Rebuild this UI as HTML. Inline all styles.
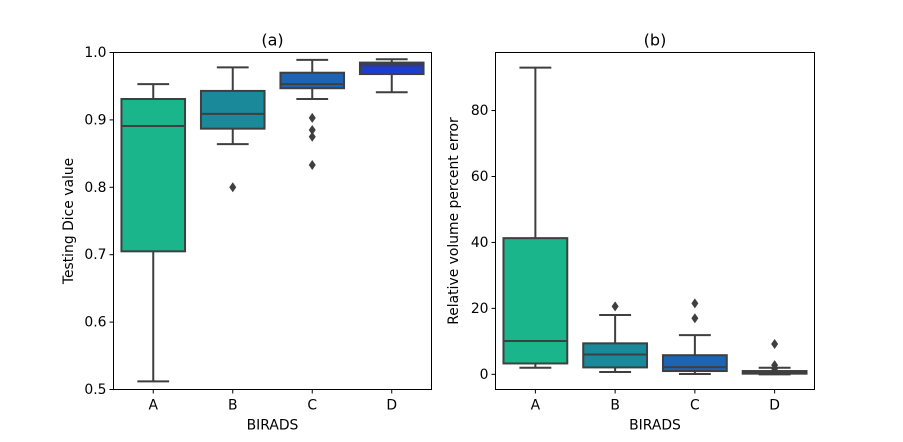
<!DOCTYPE html>
<html><head><meta charset="utf-8"><style>
body{margin:0;background:#fff}
svg text{font-family:"DejaVu Sans","Liberation Sans",sans-serif;font-size:13.9px;fill:#000}
</style></head><body>
<svg id="chart" width="903" height="437" xmlns="http://www.w3.org/2000/svg"></svg>
<script>
const categories=["A","B","C","D"];
const colors=["#1ab58b","#1a8a9b","#1c64b5","#1f3dcc"];
const diceLow=[0.512,0.864,0.931,0.941];
const diceQ1=[0.705,0.887,0.947,0.968];
const diceMed=[0.891,0.909,0.953,0.981];
const diceQ3=[0.931,0.943,0.970,0.985];
const diceHigh=[0.953,0.978,0.989,0.990];
const diceOut=[[],[0.80],[0.903,0.885,0.875,0.833],[]];
const diceTicks=[0.5,0.6,0.7,0.8,0.9,1.0];
const volLow=[2,0.7,0.1,0];
const volQ1=[3.3,2.1,1.0,0.2];
const volMed=[10.1,6.0,2.2,0.6];
const volQ3=[41.3,9.4,5.8,1.0];
const volHigh=[93,18,11.9,2];
const volOut=[[],[20.6],[21.5,17],[9.2,2.8,1.7]];
const volTicks=[0,20,40,60,80];
const NS="http://www.w3.org/2000/svg";
const svg=document.getElementById('chart');
function mk(t,a,p){const e=document.createElementNS(NS,t);for(const k in a)e.setAttribute(k,a[k]);(p||svg).appendChild(e);return e;}
function panel(o){
  const g=mk('g',{});
  
  
  const {x0,x1,y0,y1,min,max}=o;
  const ys=v=>y1-(v-min)/(max-min)*(y1-y0);
  const step=(x1-x0)/4;
  const xs=i=>x0+step*(i+0.5);
  const hw=step*0.4;
  for(let i=0;i<4;i++){
    const c=mk('g',{},g);
    
    
    const x=xs(i),st='#3f3f3f';
    mk('line',{x1:x,x2:x,y1:ys(o.low[i]),y2:ys(o.q1[i]),stroke:st,'stroke-width':2},c);
    mk('line',{x1:x,x2:x,y1:ys(o.q3[i]),y2:ys(o.high[i]),stroke:st,'stroke-width':2},c);
    mk('line',{x1:x-hw/2,x2:x+hw/2,y1:ys(o.low[i]),y2:ys(o.low[i]),stroke:st,'stroke-width':2},c);
    mk('line',{x1:x-hw/2,x2:x+hw/2,y1:ys(o.high[i]),y2:ys(o.high[i]),stroke:st,'stroke-width':2},c);
    mk('rect',{x:x-hw,y:ys(o.q3[i]),width:2*hw,height:Math.max(ys(o.q1[i])-ys(o.q3[i]),1),fill:colors[i],stroke:st,'stroke-width':2},c);
    mk('line',{x1:x-hw,x2:x+hw,y1:ys(o.med[i]),y2:ys(o.med[i]),stroke:st,'stroke-width':2},c);
    o.out[i].forEach(v=>{const y=ys(v);mk('path',{d:`M${x} ${y-5}L${x+3.5} ${y}L${x} ${y+5}L${x-3.5} ${y}Z`,fill:st},c);});
    mk('line',{x1:x,x2:x,y1:y1,y2:y1+4,stroke:'#000'},g);
    const t=mk('text',{x:x,y:y1+20,'text-anchor':'middle'},g);t.textContent=categories[i];
  }
  mk('rect',{x:x0,y:y0,width:x1-x0,height:y1-y0,fill:'none',stroke:'#000','stroke-width':1},g);
  o.ticks.forEach(v=>{const y=ys(v);mk('line',{x1:x0-4,x2:x0,y1:y,y2:y,stroke:'#000'},g);
    const t=mk('text',{x:x0-7,y:y+4.5,'text-anchor':'end'},g);t.textContent=o.fmt(v);});
  const tt=mk('text',{x:(x0+x1)/2,y:y0-7,'text-anchor':'middle'},g);tt.textContent=o.title;tt.style.fontSize='16px';
  const xl=mk('text',{x:(x0+x1)/2,y:y1+40,'text-anchor':'middle'},g);xl.textContent='BIRADS';
  const yl=mk('text',{x:0,y:0,'text-anchor':'middle',transform:`translate(${o.ylx},${(y0+y1)/2}) rotate(-90)`},g);yl.textContent=o.ylabel;
}
panel({name:'panel-a-dice',x0:113.5,x1:431.5,y0:52.5,y1:389.5,min:0.5,max:1.0,low:diceLow,q1:diceQ1,med:diceMed,q3:diceQ3,high:diceHigh,out:diceOut,ticks:diceTicks,fmt:v=>v.toFixed(1),title:'(a)',ylabel:'Testing Dice value',ylx:73});
panel({name:'panel-b-volume',x0:495.5,x1:814.5,y0:52.5,y1:389.5,min:-4.6,max:97.6,low:volLow,q1:volQ1,med:volMed,q3:volQ3,high:volHigh,out:volOut,ticks:volTicks,fmt:v=>String(v),title:'(b)',ylabel:'Relative volume percent error',ylx:458});
</script>
</body></html>
